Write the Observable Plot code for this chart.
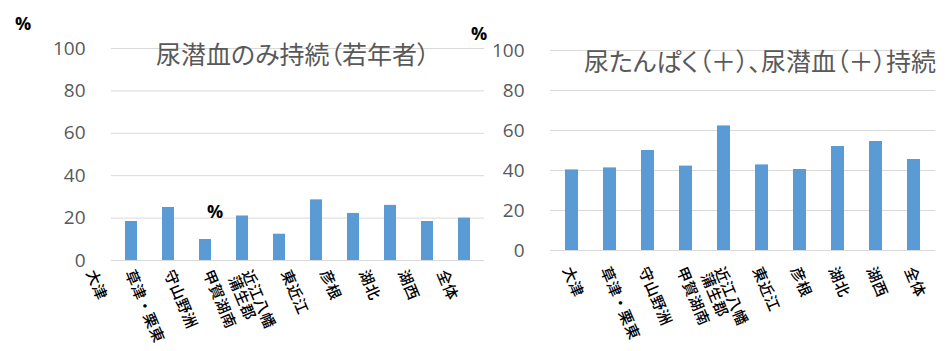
<!DOCTYPE html>
<html><head><meta charset="utf-8">
<script src="https://cdn.jsdelivr.net/npm/d3@7"></script>
<script src="https://cdn.jsdelivr.net/npm/@observablehq/plot@0.6"></script>
<style>
html,body{margin:0;padding:0;background:#fff;}
#wrap{position:relative;width:950px;height:351px;overflow:hidden;font-family:"Noto Sans CJK JP","Noto Sans",sans-serif;}
.pct{position:absolute;font-size:18px;font-weight:bold;color:#000;line-height:1;font-family:"Open Sans",sans-serif;}
.ttl{position:absolute;font-size:25px;color:#595959;line-height:1;white-space:nowrap;font-feature-settings:"palt";}
g[aria-label="x-axis tick label"] text{letter-spacing:0.5px;}
</style></head>
<body><div id="wrap"></div>
<script>
const regions = ["大津","草津・栗東","守山野洲","甲賀湖南","近江八幡\n蒲生郡","東近江","彦根","湖北","湖西","全体"];
const hematuriaOnlyYoung = [18.4, 25, 9.9, 21, 12.4, 28.6, 22.2, 26, 18.4, 20];
const proteinAndHematuria = [40.3, 41.3, 50, 42.2, 62.3, 42.8, 40.5, 52, 54.5, 45.5];
const yTicks = [0, 20, 40, 60, 80, 100];
const titleLeft = "尿潜血のみ持続（若年者）";
const titleRight = "尿たんぱく（＋）、尿潜血（＋）持続";

const leftData = regions.map((r, i) => ({region: r, value: hematuriaOnlyYoung[i]}));
const rightData = regions.map((r, i) => ({region: r, value: proteinAndHematuria[i]}));

const wrap = document.getElementById("wrap");
const FONT = '"Noto Sans CJK JP","Noto Sans",sans-serif';
const NUMFONT = '"Open Sans","Noto Sans",sans-serif';

const xLabelStyle = {tickSize: 0, tickRotate: 67, textAnchor: "start", lineAnchor: "top", fontSize: 15, fontWeight: 500, fill: "#000", label: null, fontFamily: FONT};

function panel({data, left, width, mL, mR, mT, mB, showXAxis}) {
  const p = Plot.plot({
    width, height: 351,
    marginLeft: mL, marginRight: mR, marginTop: mT, marginBottom: mB,
    style: {fontFamily: FONT, background: "transparent", overflow: "visible"},
    x: {domain: regions, paddingInner: 0.67, paddingOuter: 0.335},
    y: {domain: [0, 100]},
    marks: [
      Plot.gridY(yTicks, {stroke: "#d9d9d9", strokeOpacity: 1, strokeWidth: 1}),
      Plot.barY(data, {x: "region", y: "value", fill: "#5b9bd5"}),
      Plot.axisY(yTicks, {tickSize: 0, tickPadding: 26, fontSize: 19, fill: "#595959", label: null, fontFamily: NUMFONT}),
      showXAxis ? Plot.axisX({...xLabelStyle, tickPadding: 15}) : Plot.axisX({ticks: [], label: null, tickSize: 0})
    ]
  });
  p.style.left = left + "px";
  p.style.top = "0px";
  p.style.position = "absolute";
  wrap.appendChild(p);
}

panel({data: leftData, left: 0, width: 490, mL: 111, mR: 6, mT: 48, mB: 91, showXAxis: false});
panel({data: rightData, left: 490, width: 460, mL: 60, mR: 15, mT: 50, mB: 101, showXAxis: true});

// misaligned label row of the left panel (as in the source image)
const lab = Plot.plot({
  width: 490, height: 351,
  marginLeft: 93, marginRight: 42, marginTop: 48, marginBottom: 91,
  style: {fontFamily: FONT, background: "transparent", overflow: "visible"},
  x: {type: "point", domain: regions, padding: 0},
  y: {domain: [0, 100], axis: null},
  marks: [
    Plot.axisX({...xLabelStyle, tickPadding: 8})
  ]
});
lab.style.left = "0px"; lab.style.top = "0px"; lab.style.position = "absolute";
wrap.appendChild(lab);

function addText(cls, txt, x, y) {
  const d = document.createElement("div");
  d.className = cls; d.textContent = txt;
  d.style.left = x + "px"; d.style.top = y + "px";
  wrap.appendChild(d);
}
addText("ttl", titleLeft, 156, 41);
addText("ttl", titleRight, 584, 48);
addText("pct", "%", 15, 14);
addText("pct", "%", 471, 24);
addText("pct", "%", 207, 202);
</script></body></html>
